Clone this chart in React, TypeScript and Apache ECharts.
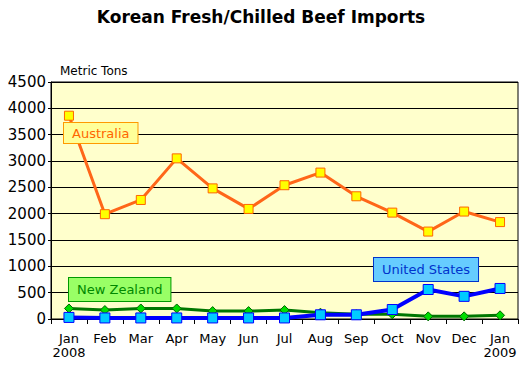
import React, { useEffect, useRef } from "react";
import * as echarts from "echarts";

const months = ["Jan", "Feb", "Mar", "Apr", "May", "Jun", "Jul", "Aug", "Sep", "Oct", "Nov", "Dec", "Jan"];
const yearLabels: Record<number, string> = { 0: "2008", 12: "2009" };
const australia = [3860, 1990, 2260, 3050, 2480, 2090, 2540, 2780, 2330, 2020, 1660, 2040, 1840];
const newZealand = [200, 170, 200, 200, 150, 150, 170, 120, 90, 90, 50, 50, 70];
const unitedStates = [30, 20, 20, 20, 20, 20, 20, 80, 80, 180, 560, 430, 580];

export default function App() {
  const ref = useRef<HTMLDivElement>(null);
  useEffect(() => {
    if (!ref.current) return;
    const chart = echarts.init(ref.current, undefined, { renderer: "svg" });
    const font = "'DejaVu Sans', Verdana, sans-serif";
    chart.setOption({
      animation: false,
      textStyle: { fontFamily: font },
      title: {
        text: "Korean Fresh/Chilled Beef Imports",
        left: "center",
        top: 3,
        textStyle: { fontFamily: font, fontSize: 17, fontWeight: "bold", color: "#000" },
      },
      grid: {
        left: 51,
        right: 4,
        top: 82,
        bottom: 47,
        show: true,
        backgroundColor: "#FFFFCC",
        borderColor: "#000",
        borderWidth: 1,
      },
      xAxis: {
        type: "category",
        data: months,
        boundaryGap: true,
        axisLine: { lineStyle: { color: "#000", width: 1 } },
        axisTick: { show: true, length: 5, lineStyle: { color: "#000" } },
        axisLabel: {
          color: "#000",
          fontSize: 13,
          lineHeight: 14,
          margin: 12,
          interval: 0,
          formatter: (v: string, i: number) => (yearLabels[i] ? v + "\n" + yearLabels[i] : v),
        },
      },
      yAxis: {
        type: "value",
        min: 0,
        max: 4500,
        interval: 500,
        axisLine: { show: true, lineStyle: { color: "#000", width: 1 } },
        axisTick: { show: true, length: 3, lineStyle: { color: "#000" } },
        splitLine: { show: true, lineStyle: { color: "#000", width: 1 } },
        axisLabel: { color: "#000", fontSize: 15, margin: 5, formatter: (v: number) => String(v) },
      },
      series: [
        {
          name: "Australia",
          type: "line",
          data: australia,
          lineStyle: { color: "#FF6619", width: 3 },
          symbol: "rect",
          symbolSize: 9,
          itemStyle: { color: "#FFFF00", borderColor: "#FF6600", borderWidth: 1 },
          z: 3,
        },
        {
          name: "New Zealand",
          type: "line",
          data: newZealand,
          lineStyle: { color: "#007700", width: 3 },
          symbol: "diamond",
          symbolSize: 9,
          itemStyle: { color: "#00DD00", borderColor: "#006600", borderWidth: 1 },
          z: 4,
        },
        {
          name: "United States",
          type: "line",
          data: unitedStates,
          lineStyle: { color: "#0000FF", width: 4 },
          symbol: "rect",
          symbolSize: 10,
          itemStyle: { color: "#00CCFF", borderColor: "#0000FF", borderWidth: 1 },
          z: 5,
        },
      ],
      graphic: [
        {
          type: "text",
          left: 60,
          top: 65,
          style: { text: "Metric Tons", font: `12px ${font}`, fill: "#000" },
        },
        {
          type: "text",
          left: 63,
          top: 122,
          z: 20,
          style: {
            text: "Australia",
            font: `13px ${font}`,
            fill: "#FF6600",
            backgroundColor: "#FFFF99",
            borderColor: "#FF9900",
            borderWidth: 1,
            padding: [4, 8, 3, 8],
          },
        },
        {
          type: "text",
          left: 68,
          top: 277,
          z: 20,
          style: {
            text: "New Zealand",
            font: `13px ${font}`,
            fill: "#008800",
            backgroundColor: "#99FF66",
            borderColor: "#009900",
            borderWidth: 1,
            padding: [5, 8, 5, 8],
          },
        },
        {
          type: "text",
          left: 373,
          top: 257,
          z: 20,
          style: {
            text: "United States",
            font: `13px ${font}`,
            fill: "#0033CC",
            backgroundColor: "#66CCFF",
            borderColor: "#0033CC",
            borderWidth: 1,
            padding: [5, 8, 5, 8],
          },
        },
      ],
    });
    return () => chart.dispose();
  }, []);
  return <div ref={ref} style={{ width: 522, height: 366, position: "absolute", left: 0, top: 0 }} />;
}
